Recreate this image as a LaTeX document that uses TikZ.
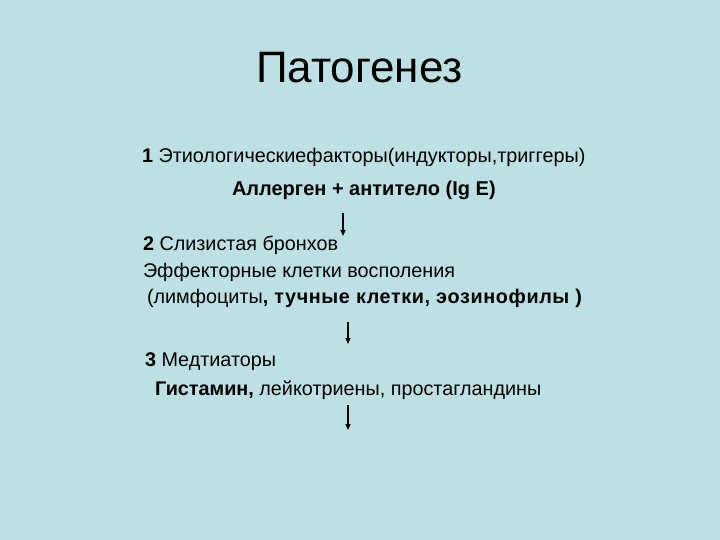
\documentclass[tikz,border=0pt]{standalone}
\usepackage{fontspec}
\setmainfont{Liberation Sans}
\usetikzlibrary{arrows.meta}
\definecolor{slidebg}{RGB}{188,224,228}

\begin{document}
\begin{tikzpicture}[
    x = 1pt,
    y = -1pt,
    txt/.style = {
      anchor = base west,
      inner sep = 0,
      outer sep = 0,
      font = \fontsize{19.8}{22}\selectfont,
    },
    flow/.style = {
      -{Triangle[length=6pt, width=5pt]},
      line width = 1.2pt,
    },
  ]
  \fill[slidebg] (0,0) rectangle (720,540);
  \useasboundingbox (0,0) rectangle (720,540);

  \node[
    txt,
    font = \fontsize{44}{50}\selectfont,
  ] (title) at (256,83) {Патогенез};

  \node[txt] (etio) at (142,163)
    {\textbf{1} Этиологическиефакторы(индукторы,триггеры)};
  \node[txt, font = \fontsize{20}{22}\selectfont\bfseries] (allergen) at (232,196)
    {Аллерген + антитело (Ig E)};
  \node[txt] (bronch) at (143,250) {\textbf{2} Слизистая бронхов};
  \node[txt] (cells) at (143,277) {Эффекторные клетки восполения};
  \node[txt] (cellist) at (147,303)
    {(лимфоциты{\addfontfeature{LetterSpace=3}\bfseries, тучные клетки, эозинофилы )}};
  \node[txt] (mediat) at (145,366) {\textbf{3} Медтиаторы};
  \node[txt] (histam) at (155,395)
    {\textbf{Гистамин,} лейкотриены, простагландины};

  \foreach \n/\x/\ya/\yb in {
    one/343/213/236,
    two/348/322/344,
    three/348/405/430
  } {
    \coordinate (\n top) at (\x,\ya);
    \coordinate (\n bot) at (\x,\yb);
    \draw[flow] (\n top) -- (\n bot);
  }

\end{tikzpicture}
\end{document}
